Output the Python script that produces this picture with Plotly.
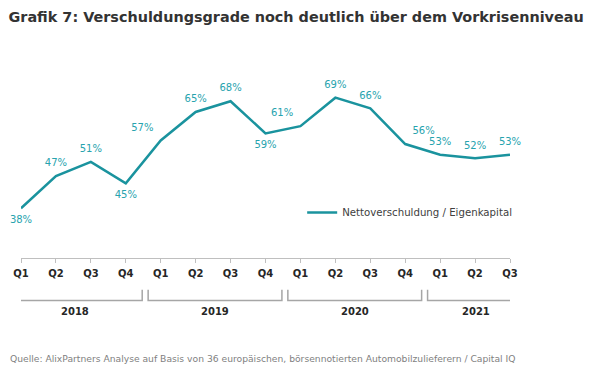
import plotly.graph_objects as go

quarters = ["Q1", "Q2", "Q3", "Q4", "Q1", "Q2", "Q3", "Q4", "Q1", "Q2", "Q3", "Q4", "Q1", "Q2", "Q3"]
years = ["2018", "2019", "2020", "2021"]
year_groups = [[0, 1, 2, 3], [4, 5, 6, 7], [8, 9, 10, 11], [12, 13, 14]]
values = [38, 47, 51, 45, 57, 65, 68, 59, 61, 69, 66, 56, 53, 52, 53]
label_pos = ["bottom center", "top center", "top center", "bottom center", "top left",
             "top center", "top center", "bottom center", "top left", "top center",
             "top center", "top right", "top center", "top center", "top center"]
series_name = "Nettoverschuldung / Eigenkapital"
title = "Grafik 7: Verschuldungsgrade noch deutlich über dem Vorkrisenniveau"
source = "Quelle: AlixPartners Analyse auf Basis von 36 europäischen, börsennotierten Automobilzulieferern / Capital IQ"

LINE = "#1a939e"
LABEL = "#27a3ae"
FONT = "DejaVu Sans"

x = list(range(len(values)))

fig = go.Figure()
fig.add_trace(go.Scatter(
    x=x, y=values, mode="lines+markers+text", name=series_name,
    line=dict(color=LINE, width=2.5),
    marker=dict(size=10, color="rgba(0,0,0,0)", line=dict(width=0)),
    text=[f"{v}%" for v in values], textposition=label_pos,
    textfont=dict(family=FONT, size=10, color=LABEL),
    cliponaxis=False, hoverinfo="skip",
))

shapes = []
annotations = []
n = len(values)
for gi, (yr, grp) in enumerate(zip(years, year_groups)):
    start = grp[0] - 0.35 if gi == 0 else grp[0] - 0.5 + 0.14
    end = grp[-1] + 0.42 if gi == len(years) - 1 else grp[-1] + 0.5 - 0.03
    shapes.append(dict(
        type="path", xref="x", yref="paper",
        path=f"M {start},-0.174 L {start},-0.234 L {end},-0.234 L {end},-0.174",
        line=dict(color="#a6a6a6", width=1.5),
    ))
    annotations.append(dict(
        x=(start + end) / 2, y=-0.296, xref="x", yref="paper",
        text=f"<b>{yr}</b>", showarrow=False,
        font=dict(family=FONT, size=10, color="#262626"),
        xanchor="center", yanchor="middle",
    ))

annotations.append(dict(
    x=-0.0265, y=-0.552, xref="paper", yref="paper",
    text=source, showarrow=False, xanchor="left", yanchor="middle",
    font=dict(family=FONT, size=9.2, color="#7f7f7f"),
))

W, H = 592, 359
fig.update_layout(
    width=W, height=H,
    margin=dict(l=13, r=89.6, t=68, b=108.7, autoexpand=False),
    paper_bgcolor="white", plot_bgcolor="white",
    title=dict(text=f"<b>{title}</b>", x=0.5 / W, xanchor="left",
               y=1 - 9 / H, yanchor="middle", xref="container", yref="container",
               pad=dict(l=0, r=0, t=0, b=0),
               font=dict(family=FONT, size=14.4, color="#333333")),
    xaxis=dict(range=[0, n - 1], tickvals=x, ticktext=[f"<b>{q}</b>" for q in quarters],
               automargin=False,
               showgrid=False, zeroline=False, showline=True, linecolor="#bfbfbf",
               linewidth=1, ticks="outside", ticklen=4, tickcolor="#bfbfbf",
               tickfont=dict(family=FONT, size=10, color="#262626"),
               ticklabelstandoff=2),
    yaxis=dict(range=[24.07, 75.07], visible=False, showgrid=False, zeroline=False,
               automargin=False),
    showlegend=True,
    legend=dict(x=0.575, y=0.25, xanchor="left", yanchor="middle",
                font=dict(family=FONT, size=10.2, color="#404040"),
                bgcolor="rgba(0,0,0,0)"),
    shapes=shapes, annotations=annotations,
)

fig.write_html("out.html")
